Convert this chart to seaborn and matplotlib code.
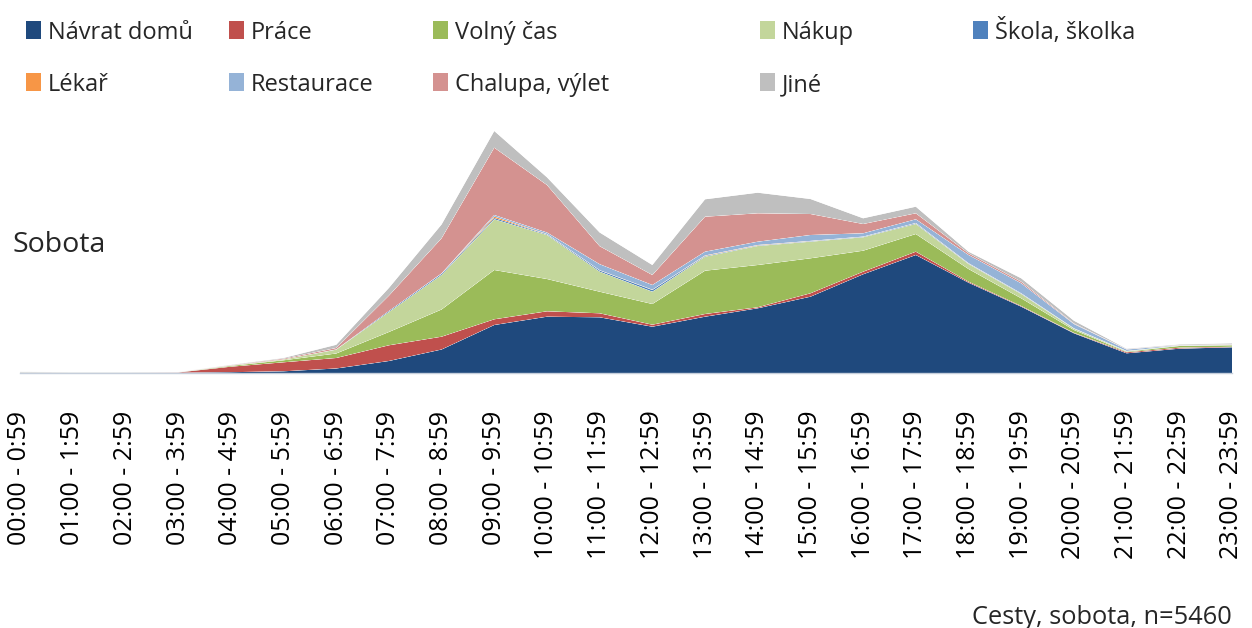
import pandas as pd
import matplotlib
matplotlib.use("Agg")
import matplotlib.pyplot as plt
from matplotlib.patches import Rectangle
import seaborn as sns
import seaborn.objects as so

# hodinove intervaly (osa x)
hours = ["00:00 - 0:59", "01:00 - 1:59", "02:00 - 2:59", "03:00 - 3:59",
         "04:00 - 4:59", "05:00 - 5:59", "06:00 - 6:59", "07:00 - 7:59",
         "08:00 - 8:59", "09:00 - 9:59", "10:00 - 10:59", "11:00 - 11:59",
         "12:00 - 12:59", "13:00 - 13:59", "14:00 - 14:59", "15:00 - 15:59",
         "16:00 - 16:59", "17:00 - 17:59", "18:00 - 18:59", "19:00 - 19:59",
         "20:00 - 20:59", "21:00 - 21:59", "22:00 - 22:59", "23:00 - 23:59"]

purposes = ["Návrat domů", "Práce", "Volný čas", "Nákup", "Škola, školka",
            "Lékař", "Restaurace", "Chalupa, výlet", "Jiné"]

colors = ["#1F497D", "#C0504D", "#9BBB59", "#C3D69B", "#4F81BD",
          "#F79646", "#95B3D7", "#D49290", "#BFBFBF"]

# pocty cest podle ucelu (odhad z grafu, relativni jednotky)
navrat = [0.3, 0.2, 0.2, 0.2, 0.8, 1.7, 4.5, 12, 23.5, 48, 56.3, 55.7,
          46.3, 56.3, 64.7, 76.3, 98.7, 118, 90.3, 66.3, 39.7, 19.7, 24.3, 25.7]
prace = [0.1, 0.1, 0.1, 0.3, 5.5, 9, 10.5, 15.7, 12.8, 5.7, 5.4, 4,
         2, 2.7, 1, 3.4, 2.6, 3.3, 1, 0.7, 0.5, 1, 1, 0.5]
volny_cas = [0.2, 0.1, 0.1, 0.1, 0.8, 2, 4.5, 13.3, 27.2, 49.3, 32.3, 21.6,
             20.7, 43.3, 42.3, 35, 21, 17.7, 12.7, 7.7, 2.8, 0.6, 1.7, 1.5]
nakup = [0.2, 0.1, 0.1, 0.1, 0.3, 0.8, 3.8, 20, 34.5, 50.7, 44, 20,
         12.3, 14, 19, 16.6, 13.4, 10, 5, 4.3, 1.3, 0.5, 0.3, 0.3]
skola = [0, 0, 0, 0, 0, 0, 0.2, 1, 1.2, 1.3, 0.7, 1.2,
         1.7, 0.7, 0.5, 0.5, 0.5, 0.7, 0.5, 0.5, 0.3, 0.2, 0.1, 0]
lekar = [0, 0, 0, 0, 0, 0, 0, 0, 0.2, 1.5, 0.3, 0.3,
         0.3, 0.5, 0.5, 0.3, 0.2, 0.3, 0.3, 0.2, 0.1, 0, 0, 0]
restaurace = [0, 0, 0, 0, 0, 0, 0, 0, 0.2, 1.5, 1.5, 6,
              4.7, 3.8, 3.3, 5.9, 3.3, 3.7, 8.2, 10, 4.3, 1.5, 0.3, 0.3]
chalupa = [0.3, 0.1, 0.1, 0.1, 0.4, 0.8, 1.5, 15.3, 35.1, 67.3, 47.5, 18,
           10, 35, 28.4, 21, 9.3, 6, 1.7, 1.6, 0.5, 0.3, 0.3, 0.4]
jine = [0.2, 0.1, 0.1, 0.1, 0.4, 0.7, 3.2, 7.7, 13.8, 16.7, 7.7, 13.7,
        10, 17.4, 20.6, 15, 5.7, 6.6, 1.6, 3.4, 2.8, 0.5, 0.6, 1]

series = [navrat, prace, volny_cas, nakup, skola, lekar, restaurace, chalupa, jine]

wide = pd.DataFrame({"hodina": range(len(hours))})
for name, vals in zip(purposes, series):
    wide[name] = vals
df = wide.melt(id_vars="hodina", var_name="ucel", value_name="cesty")

sns.set_theme(style="white")
font = ["Open Sans", "DejaVu Sans"]
plt.rcParams["font.family"] = font

W, H = 1252, 628
fig = plt.figure(figsize=(W / 100, H / 100), dpi=100)
ax = fig.add_axes([20 / W, 1 - 373 / H, 1212 / W, 263 / H])

(
    so.Plot(df, x="hodina", y="cesty", color="ucel")
    .add(so.Area(alpha=1, edgewidth=0), so.Stack(), legend=False)
    .scale(color=so.Nominal(colors, order=purposes))
    .on(ax)
    .plot()
)

ax.set_facecolor("white")
ax.grid(False)
ax.set_xlim(0, len(hours) - 1)
ax.set_ylim(0, 263)
ax.set_xlabel("")
ax.set_ylabel("")
ax.set_yticks([])
ax.set_xticks(range(len(hours)), labels=hours, rotation=90,
              fontsize=18, fontfamily=font, color="black")
ax.tick_params(axis="x", length=0, pad=27)
for s in ["left", "right", "top"]:
    ax.spines[s].set_visible(False)
ax.spines["bottom"].set_color("#C5CEDB")
ax.spines["bottom"].set_linewidth(1)


def px(x, y):
    return x / W, 1 - y / H


# legenda ve dvou radcich
col_x = [26, 229, 433, 760, 973]
row_base = [39, 91]
for i, (name, c) in enumerate(zip(purposes, colors)):
    r, k = divmod(i, 5)
    x0 = col_x[k]
    fig.patches.append(Rectangle(px(x0, row_base[r]), 15 / W, 18 / H,
                                 transform=fig.transFigure, facecolor=c,
                                 edgecolor="none"))
    fig.text(*px(x0 + 22, row_base[r]), name, fontsize=17, va="baseline",
             ha="left", family=font)

fig.text(*px(13, 252), "Sobota", fontsize=20.5, va="baseline", ha="left",
         family=font)
fig.text(*px(1232, 624), "Cesty, sobota, n=5460", fontsize=18.3,
         va="baseline", ha="right", family=font)

fig.savefig("out.png", dpi=100, facecolor="white")
